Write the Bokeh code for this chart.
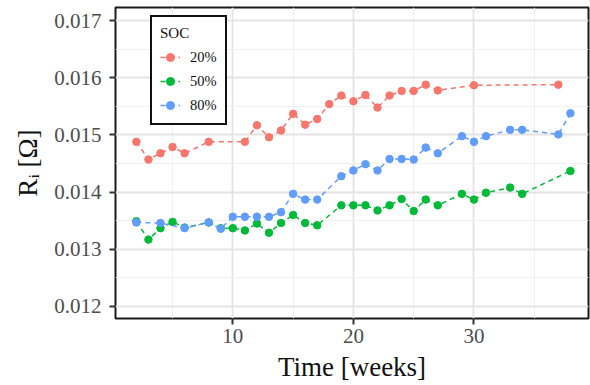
from bokeh.plotting import figure
from bokeh.models import Range1d, FixedTicker, NumeralTickFormatter, Legend, LegendItem
from bokeh.embed import file_html
from bokeh.resources import INLINE

weeks_20 = [2, 3, 4, 5, 6, 8, 11, 12, 13, 14, 15, 16, 17, 18, 19, 20, 21, 22, 23, 24, 25, 26, 27, 30, 37]
ri_20 = [0.01488, 0.01457, 0.01468, 0.01479, 0.01468, 0.01488, 0.01488, 0.01517, 0.01496, 0.01508,
         0.01537, 0.01518, 0.01528, 0.01554, 0.01569, 0.01559, 0.01570, 0.01548, 0.01569, 0.01577,
         0.01577, 0.01588, 0.01578, 0.01587, 0.01588]

weeks_50 = [2, 3, 4, 5, 6, 8, 9, 10, 11, 12, 13, 14, 15, 16, 17, 19, 20, 21, 22, 23, 24, 25, 26, 27,
            29, 30, 31, 33, 34, 38]
ri_50 = [0.01349, 0.01317, 0.01337, 0.01348, 0.01338, 0.01347, 0.01337, 0.01337, 0.01333, 0.01345,
         0.01329, 0.01346, 0.01360, 0.01346, 0.01342, 0.01377, 0.01377, 0.01377, 0.01368, 0.01377,
         0.01388, 0.01367, 0.01387, 0.01377, 0.01397, 0.01387, 0.01399, 0.01408, 0.01397, 0.01437]

weeks_80 = [2, 4, 6, 8, 9, 10, 11, 12, 13, 14, 15, 16, 17, 19, 20, 21, 22, 23, 24, 25, 26, 27, 29, 30,
            31, 33, 34, 37, 38]
ri_80 = [0.01347, 0.01346, 0.01337, 0.01347, 0.01336, 0.01357, 0.01357, 0.01357, 0.01357, 0.01365,
         0.01397, 0.01387, 0.01387, 0.01428, 0.01438, 0.01449, 0.01438, 0.01458, 0.01458, 0.01457,
         0.01478, 0.01468, 0.01498, 0.01488, 0.01498, 0.01509, 0.01509, 0.01501, 0.01538]

series_labels = ["20%", "50%", "80%"]
colors = ["#F8766D", "#00BA38", "#619CFF"]
y_ticks = [0.012, 0.013, 0.014, 0.015, 0.016, 0.017]
x_ticks = [10, 20, 30]

SERIF = "Liberation Serif"

p = figure(output_backend="svg", toolbar_location=None,
           x_range=Range1d(0.27, 39.5), y_range=Range1d(0.01179, 0.01723),
           min_border_left=115, min_border_right=2, min_border_top=7, min_border_bottom=67,
           frame_width=473, frame_height=311)
p.background_fill_color = "white"
p.border_fill_color = "white"
p.outline_line_color = "#1a1a1a"
p.outline_line_alpha = 1.0
p.outline_line_width = 2

p.xaxis.ticker = FixedTicker(ticks=x_ticks, minor_ticks=[5, 15, 25, 35])
p.yaxis.ticker = FixedTicker(ticks=y_ticks, minor_ticks=[0.0115, 0.0125, 0.0135, 0.0145, 0.0155, 0.0165])
p.yaxis.formatter = NumeralTickFormatter(format="0.000")

for ax in (p.xaxis[0], p.yaxis[0]):
    ax.axis_line_color = None
    ax.major_tick_line_color = "#333333"
    ax.major_tick_line_width = 2
    ax.major_tick_out = 6
    ax.major_tick_in = 0
    ax.minor_tick_line_color = None
    ax.major_label_text_font = SERIF
    ax.major_label_text_font_size = "21px"
    ax.major_label_text_font_style = "normal"
    ax.major_label_text_color = "#4d4d4d"
    ax.axis_label_text_font = SERIF
    ax.axis_label_text_font_size = "27px"
    ax.axis_label_text_font_style = "normal"
    ax.axis_label_text_color = "#111111"

p.yaxis.major_label_standoff = 8
p.xaxis.major_label_standoff = 4
p.xaxis.axis_label = "Time [weeks]"
p.xaxis.axis_label_standoff = 6
p.yaxis.axis_label = "R\u1d62 [\u03a9]"
p.yaxis.axis_label_standoff = 8

p.xgrid.grid_line_color = "#e4e4e4"
p.xgrid.grid_line_width = 1.8
p.ygrid.grid_line_color = "#e4e4e4"
p.ygrid.grid_line_width = 1.8
p.xgrid.minor_grid_line_color = "#f0f0f0"
p.xgrid.minor_grid_line_width = 1
p.ygrid.minor_grid_line_color = "#f0f0f0"
p.ygrid.minor_grid_line_width = 1

items = []
for xs, ys, lab, col in zip([weeks_20, weeks_50, weeks_80], [ri_20, ri_50, ri_80], series_labels, colors):
    ln = p.line(xs, ys, line_color=col, line_width=1.5, line_dash="5 4")
    sc = p.scatter(xs, ys, size=7.5, fill_color=col, line_color=col)
    items.append(LegendItem(label=lab, renderers=[ln, sc]))

legend = Legend(items=items, location=(35, 193), title="SOC")
legend.title_text_font = SERIF
legend.title_text_font_size = "15px"
legend.title_text_font_style = "normal"
legend.title_text_color = "#111111"
legend.title_standoff = 5
legend.label_text_font = SERIF
legend.label_text_font_size = "14.5px"
legend.label_text_font_style = "normal"
legend.label_text_color = "#111111"
legend.border_line_color = "#111111"
legend.border_line_alpha = 1.0
legend.border_line_width = 2
legend.background_fill_alpha = 1
legend.padding = 8
legend.spacing = 4
legend.glyph_width = 20
legend.glyph_height = 20
legend.label_standoff = 10
legend.margin = 0
p.add_layout(legend, "center")

open("out.html", "w").write(file_html(p, INLINE))
